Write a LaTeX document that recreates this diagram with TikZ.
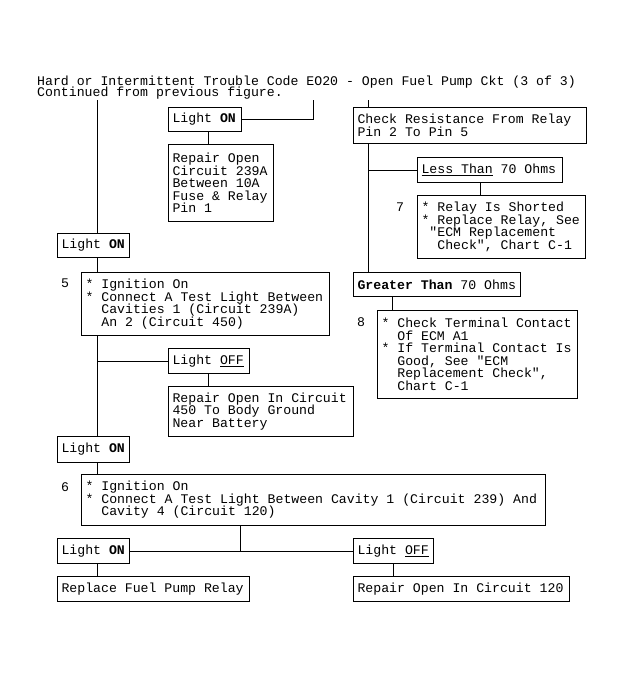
\documentclass[tikz,border=0pt]{standalone}
\usepackage{fontspec}
\setmainfont{Liberation Mono}[Ligatures=TeXOff]
\tikzset{
  fnt/.style={font=\fontsize{13.2}{12.5}\selectfont},
  box/.style={fnt, draw, line width=1pt, anchor=north west, align=flush left,
              inner xsep=4pt, inner ysep=2pt,
              execute at begin node={\spaceskip=0pt\xspaceskip=0pt}},
  wire/.style={draw, line width=1pt},
  txt/.style={fnt, inner sep=0pt},
}
\begin{document}
\begin{tikzpicture}[x=1pt,y=-1pt]
\useasboundingbox[fill=white] (0,0) rectangle (623,677);

% title
\node[txt, anchor=base west] (t1) at (37,85) {Hard or Intermittent Trouble Code EO20 - Open Fuel Pump Ckt (3 of 3)};
\node[txt, anchor=base west] (t2) at (37,96.7) {Continued from previous figure.};

% left / middle column
\node[box, text width=65, minimum height=24] (lon1) at (168,107) {\mbox{Light \textbf{ON}}};
\node[box, text width=97, minimum height=77] (rep1) at (168,144)
  {Repair Open\\Circuit 239A\\Between 10A\\Fuse \& Relay\\Pin 1};
\node[box, text width=64, minimum height=24] (lon2) at (57,233) {\mbox{Light \textbf{ON}}};
\node[box, text width=240, minimum height=63] (s5) at (81,272)
  {* Ignition On\\{}* Connect A Test Light Between\\\phantom{**}Cavities 1 (Circuit 239A)\\\phantom{**}An 2 (Circuit 450)};
\node[txt] (n5) at (65,283) {5};
\node[box, text width=73, minimum height=25] (loff1) at (168,348) {\mbox{Light \underline{OFF}}};
\node[box, text width=177, minimum height=50] (rep2) at (168,386)
  {Repair Open In Circuit\\450 To Body Ground\\Near Battery};
\node[box, text width=64, minimum height=26] (lon3) at (57,436) {\mbox{Light \textbf{ON}}};
\node[box, text width=456, minimum height=51] (s6) at (81,474)
  {* Ignition On\\{}* Connect A Test Light Between Cavity 1 (Circuit 239) And\\\phantom{**}Cavity 4 (Circuit 120)};
\node[txt] (n6) at (65,487) {6};
\node[box, text width=64, minimum height=25] (lon4) at (57,538) {\mbox{Light \textbf{ON}}};
\node[box, text width=72, minimum height=25] (loff2) at (353,538) {\mbox{Light \underline{OFF}}};
\node[box, text width=184, minimum height=25] (rep3) at (57,576) {\mbox{Replace Fuel Pump Relay}};
\node[box, text width=208, minimum height=25] (rep4) at (353,576) {\mbox{Repair Open In Circuit 120}};

% right column
\node[box, text width=225, minimum height=36] (chk) at (353,107)
  {Check Resistance From Relay\\Pin 2 To Pin 5};
\node[box, text width=137, minimum height=25] (lt) at (417,157) {\mbox{\underline{Less Than} 70 Ohms}};
\node[box, text width=160, minimum height=63] (s7) at (417,195)
  {* Relay Is Shorted\\{}* Replace Relay, See\\\phantom{*}"ECM Replacement\\\phantom{**}Check", Chart C-1};
\node[txt] (n7) at (400,207) {7};
\node[box, text width=159, minimum height=24] (gt) at (353,272) {\mbox{\textbf{Greater Than} 70 Ohms}};
\node[box, text width=192, minimum height=88] (s8) at (377,310)
  {* Check Terminal Contact\\\phantom{**}Of ECM A1\\{}* If Terminal Contact Is\\\phantom{**}Good, See "ECM\\\phantom{**}Replacement Check",\\\phantom{**}Chart C-1};
\node[txt] (n8) at (361,322) {8};

% helper coordinates
\coordinate (in1) at (97,100);
\coordinate (in2) at (313,100);
\coordinate (in3) at (368,100);
\coordinate (xA) at (97,0);
\coordinate (xB) at (208,0);
\coordinate (xC) at (368,0);
\coordinate (xD) at (480,0);
\coordinate (xE) at (392,0);
\coordinate (xF) at (240,0);
\coordinate (xG) at (393,0);

% connectors
\draw[wire] (in1) -- (lon2.north -| in1);
\draw[wire] (in2) |- (lon1.east);
\draw[wire] (in3) -- (chk.north -| in3);
\draw[wire] (lon1.south -| xB) -- (rep1.north -| xB);
\draw[wire] (lon2.south -| xA) -- (s5.north -| xA);
\draw[wire] (s5.south -| xA) -- (lon3.north -| xA);
\draw[wire] (loff1.west) -- (loff1.west -| xA);
\draw[wire] (loff1.south -| xB) -- (rep2.north -| xB);
\draw[wire] (lon3.south -| xA) -- (s6.north -| xA);
\draw[wire] (s6.south -| xF) -- (lon4.east -| xF);
\draw[wire] (lon4.east) -- (loff2.west);
\draw[wire] (lon4.south -| xA) -- (rep3.north -| xA);
\draw[wire] (loff2.south -| xG) -- (rep4.north -| xG);
\draw[wire] (chk.south -| xC) -- (gt.north -| xC);
\draw[wire] (lt.west) -- (lt.west -| xC);
\draw[wire] (lt.south -| xD) -- (s7.north -| xD);
\draw[wire] (gt.south -| xE) -- (s8.north -| xE);
\end{tikzpicture}
\end{document}
